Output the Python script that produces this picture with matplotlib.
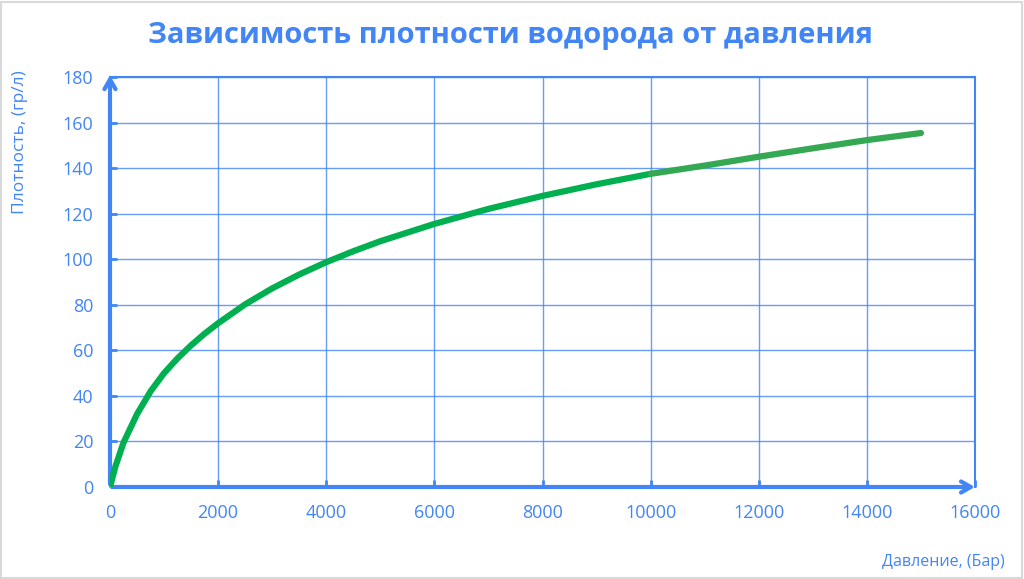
import matplotlib.pyplot as plt
from matplotlib.patches import Rectangle

plt.rcParams['font.family'] = ['Open Sans', 'DejaVu Sans']

blue = '#4285F4'

# pressure (bar) and hydrogen density (g/l)
pressure = [0, 100, 250, 500, 750, 1000, 1250, 1500, 1750, 2000, 2500, 3000,
            3500, 4000, 4500, 5000, 6000, 7000, 8000, 9000, 10000,
            11000, 12000, 13000, 14000, 15000]
density = [0, 9, 19.5, 32, 42, 50, 56.5, 62.2, 67.3, 71.9, 80.2, 87.2,
           93.3, 98.7, 103.5, 107.9, 115.5, 122.1, 127.8, 132.9, 137.5,
           141.1, 145, 148.7, 152.3, 155.4]
split = 20  # index of 10000 bar, colour changes after this

xticks = [0, 2000, 4000, 6000, 8000, 10000, 12000, 14000, 16000]
yticks = [0, 20, 40, 60, 80, 100, 120, 140, 160, 180]

fig = plt.figure(figsize=(10.24, 5.79), dpi=100)
ax = fig.add_axes([110/1024, 1-487/579, 865/1024, 410/579])

ax.plot(pressure[:split+1], density[:split+1], color='#00B050', lw=4.5,
        solid_capstyle='round', solid_joinstyle='round', zorder=5)
ax.plot(pressure[split:], density[split:], color='#34A853', lw=4.5,
        solid_capstyle='round', solid_joinstyle='round', zorder=5)

ax.set_xlim(0, 16000)
ax.set_ylim(0, 180)
ax.set_xticks(xticks)
ax.set_yticks(yticks)
ax.grid(True, color=blue, lw=1, alpha=0.8)
ax.tick_params(colors=blue, labelsize=13, direction='in', length=5, width=2, pad=12)
for s in ['left', 'bottom']:
    ax.spines[s].set_visible(False)
for s in ['top', 'right']:
    ax.spines[s].set_color(blue)
    ax.spines[s].set_linewidth(1.5)

# axes with arrows
ax.annotate('', xy=(0, 182), xytext=(0, 0),
            arrowprops=dict(arrowstyle='->,head_length=0.7,head_width=0.4', color=blue, lw=3),
            annotation_clip=False, zorder=4)
ax.annotate('', xy=(16050, 0), xytext=(0, 0),
            arrowprops=dict(arrowstyle='->,head_length=0.7,head_width=0.4', color=blue, lw=3),
            annotation_clip=False, zorder=4)

fig.text(0.498, 1-35/579, 'Зависимость плотности водорода от давления', ha='center', va='center',
         color=blue, fontsize=21, fontweight='bold')
fig.text(20/1024, 1-142/579, 'Плотность, (гр/л)', rotation=90, ha='center', va='center',
         color=blue, fontsize=12.5)
fig.text(943/1024, 1-562/579, 'Давление, (Бар)', ha='center', va='center',
         color=blue, fontsize=11.5)

fig.patches.append(Rectangle((0.001, 0.002), 0.997, 0.995, transform=fig.transFigure,
                             fill=False, edgecolor='#D9D9D9', lw=1.5))

fig.savefig('out.png', dpi=100)
